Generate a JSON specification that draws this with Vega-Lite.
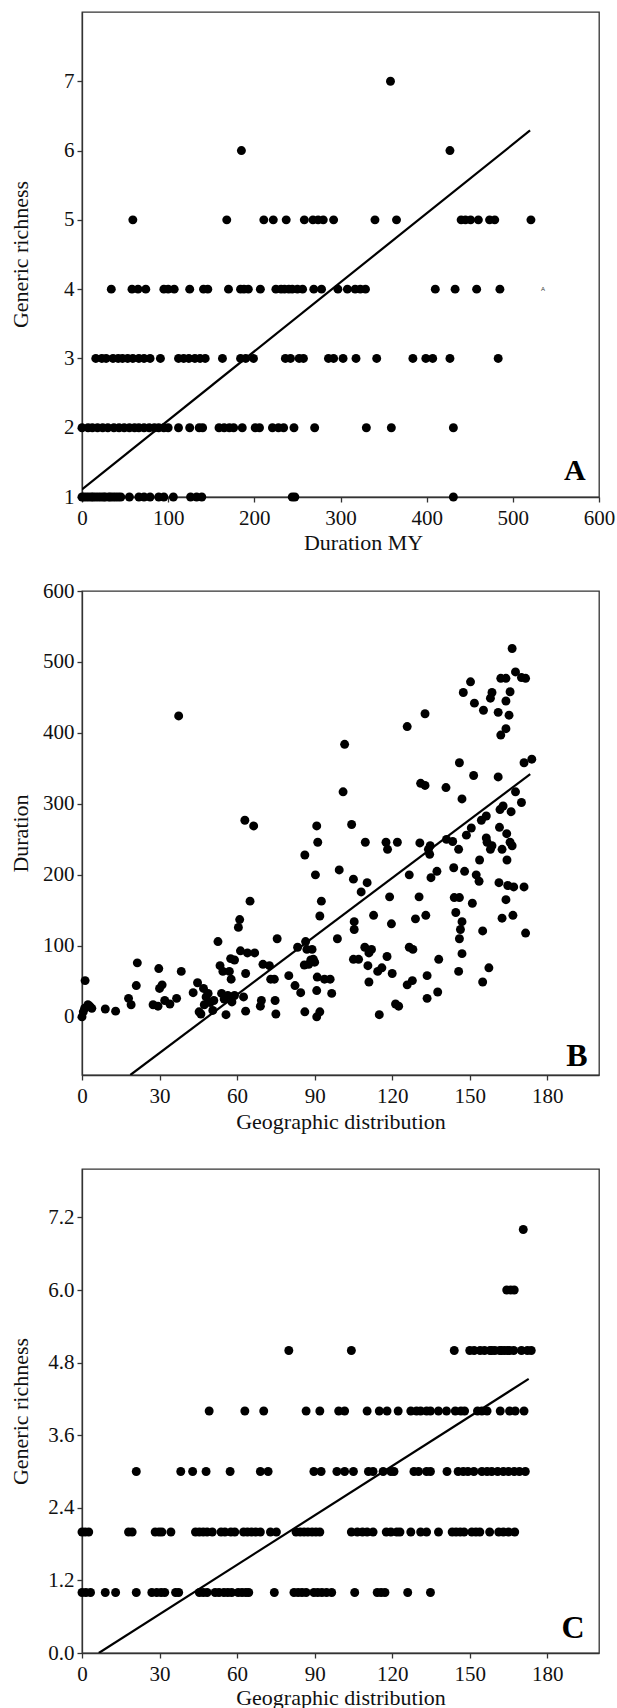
{
"$schema": "https://vega.github.io/schema/vega-lite/v6.json",
"padding": {"left": 8, "top": 11, "right": 5, "bottom": 5},
"background": "white",
"spacing": 94,
"bounds": "flush",
"config": {
 "font": "Liberation Serif",
 "view": {"stroke": "#333", "strokeWidth": 1.3},
 "axis": {"grid": false, "domainColor": "#333", "domainWidth": 1.3, "tickColor": "#333", "tickWidth": 1.3, "tickSize": 5,
  "labelFont": "Liberation Serif", "labelFontSize": 21, "labelColor": "#111", "labelFlush": false, "labelOverlap": false,
  "titleFont": "Liberation Serif", "titleFontSize": 22, "titleFontWeight": "normal", "titleColor": "#111"},
 "axisX": {"labelPadding": 5},
 "axisY": {"labelPadding": 3}
},
"datasets": {
 "a": [
  {"dur":358,"rich":7},
  {"dur":185,"rich":6},{"dur":427,"rich":6},
  {"dur":59,"rich":5},{"dur":168,"rich":5},{"dur":211,"rich":5},{"dur":222,"rich":5},{"dur":237,"rich":5},{"dur":258,"rich":5},{"dur":268,"rich":5},{"dur":274,"rich":5},{"dur":280,"rich":5},{"dur":292,"rich":5},{"dur":340,"rich":5},{"dur":365,"rich":5},{"dur":440,"rich":5},{"dur":445,"rich":5},{"dur":451,"rich":5},{"dur":460,"rich":5},{"dur":473,"rich":5},{"dur":479,"rich":5},{"dur":521,"rich":5},
  {"dur":34,"rich":4},{"dur":58,"rich":4},{"dur":65,"rich":4},{"dur":74,"rich":4},{"dur":95,"rich":4},{"dur":100,"rich":4},{"dur":107,"rich":4},{"dur":125,"rich":4},{"dur":141,"rich":4},{"dur":146,"rich":4},{"dur":170,"rich":4},{"dur":184,"rich":4},{"dur":188,"rich":4},{"dur":193,"rich":4},{"dur":207,"rich":4},{"dur":225,"rich":4},{"dur":231,"rich":4},{"dur":235,"rich":4},{"dur":240,"rich":4},{"dur":244,"rich":4},{"dur":250,"rich":4},{"dur":256,"rich":4},{"dur":269,"rich":4},{"dur":278,"rich":4},{"dur":297,"rich":4},{"dur":308,"rich":4},{"dur":317,"rich":4},{"dur":323,"rich":4},{"dur":329,"rich":4},{"dur":410,"rich":4},{"dur":433,"rich":4},{"dur":458,"rich":4},{"dur":485,"rich":4},
  {"dur":16,"rich":3},{"dur":23,"rich":3},{"dur":28,"rich":3},{"dur":36,"rich":3},{"dur":42,"rich":3},{"dur":47,"rich":3},{"dur":53,"rich":3},{"dur":59,"rich":3},{"dur":66,"rich":3},{"dur":72,"rich":3},{"dur":79,"rich":3},{"dur":91,"rich":3},{"dur":112,"rich":3},{"dur":118,"rich":3},{"dur":124,"rich":3},{"dur":131,"rich":3},{"dur":137,"rich":3},{"dur":143,"rich":3},{"dur":163,"rich":3},{"dur":184,"rich":3},{"dur":190,"rich":3},{"dur":199,"rich":3},{"dur":236,"rich":3},{"dur":242,"rich":3},{"dur":252,"rich":3},{"dur":257,"rich":3},{"dur":286,"rich":3},{"dur":292,"rich":3},{"dur":303,"rich":3},{"dur":318,"rich":3},{"dur":342,"rich":3},{"dur":384,"rich":3},{"dur":399,"rich":3},{"dur":407,"rich":3},{"dur":427,"rich":3},{"dur":483,"rich":3},
  {"dur":0,"rich":2},{"dur":7,"rich":2},{"dur":12,"rich":2},{"dur":18,"rich":2},{"dur":24,"rich":2},{"dur":30,"rich":2},{"dur":37,"rich":2},{"dur":43,"rich":2},{"dur":49,"rich":2},{"dur":55,"rich":2},{"dur":61,"rich":2},{"dur":66,"rich":2},{"dur":72,"rich":2},{"dur":78,"rich":2},{"dur":84,"rich":2},{"dur":89,"rich":2},{"dur":95,"rich":2},{"dur":100,"rich":2},{"dur":112,"rich":2},{"dur":125,"rich":2},{"dur":136,"rich":2},{"dur":140,"rich":2},{"dur":159,"rich":2},{"dur":165,"rich":2},{"dur":171,"rich":2},{"dur":176,"rich":2},{"dur":186,"rich":2},{"dur":201,"rich":2},{"dur":206,"rich":2},{"dur":221,"rich":2},{"dur":228,"rich":2},{"dur":234,"rich":2},{"dur":246,"rich":2},{"dur":270,"rich":2},{"dur":330,"rich":2},{"dur":359,"rich":2},{"dur":431,"rich":2},
  {"dur":0,"rich":1},{"dur":2,"rich":1},{"dur":5,"rich":1},{"dur":8,"rich":1},{"dur":11,"rich":1},{"dur":13,"rich":1},{"dur":16,"rich":1},{"dur":19,"rich":1},{"dur":22,"rich":1},{"dur":25,"rich":1},{"dur":27,"rich":1},{"dur":31,"rich":1},{"dur":33,"rich":1},{"dur":36,"rich":1},{"dur":39,"rich":1},{"dur":42,"rich":1},{"dur":45,"rich":1},{"dur":55,"rich":1},{"dur":66,"rich":1},{"dur":72,"rich":1},{"dur":79,"rich":1},{"dur":89,"rich":1},{"dur":95,"rich":1},{"dur":106,"rich":1},{"dur":126,"rich":1},{"dur":133,"rich":1},{"dur":139,"rich":1},{"dur":244,"rich":1},{"dur":247,"rich":1},{"dur":431,"rich":1}
 ],
 "lineA": [{"dur":0,"rich":1.11},{"dur":520,"rich":6.29}],
 "b": [
  {"geo":0,"dur":0},{"geo":0.5,"dur":7},{"geo":1,"dur":12},{"geo":1.2,"dur":51},{"geo":2.3,"dur":17},{"geo":3,"dur":15},{"geo":3.8,"dur":12},{"geo":9,"dur":11},{"geo":13,"dur":8},{"geo":18,"dur":26},{"geo":19,"dur":17},{"geo":21,"dur":44},{"geo":21.4,"dur":76},{"geo":27.5,"dur":17},{"geo":29.4,"dur":15},{"geo":29.7,"dur":68},{"geo":30,"dur":40},{"geo":31,"dur":45},{"geo":32,"dur":23},{"geo":34,"dur":18},{"geo":36.6,"dur":26},{"geo":37.4,"dur":424},{"geo":38.4,"dur":64},{"geo":43,"dur":34},{"geo":44.7,"dur":48},{"geo":45.3,"dur":7},{"geo":46,"dur":4},{"geo":47,"dur":40},{"geo":47.3,"dur":17},{"geo":48,"dur":28},{"geo":48.8,"dur":33},{"geo":49.6,"dur":20},{"geo":50.6,"dur":9},{"geo":51,"dur":23},{"geo":52.6,"dur":106},{"geo":53.4,"dur":72},{"geo":54,"dur":33},{"geo":54.5,"dur":64},{"geo":55,"dur":25},{"geo":55.7,"dur":3},{"geo":56.4,"dur":30},{"geo":57,"dur":64},{"geo":57.5,"dur":82},{"geo":57.7,"dur":53},{"geo":58,"dur":21},{"geo":59,"dur":80},{"geo":59,"dur":30},{"geo":60.5,"dur":126},{"geo":61,"dur":137},{"geo":61.3,"dur":93},{"geo":62.5,"dur":28},{"geo":63,"dur":277},{"geo":63.3,"dur":61},{"geo":63.3,"dur":8},{"geo":64,"dur":90},{"geo":65,"dur":163},{"geo":66.4,"dur":269},{"geo":66.8,"dur":90},{"geo":69,"dur":15},{"geo":69.4,"dur":23},{"geo":70,"dur":74},{"geo":72.5,"dur":72},{"geo":73,"dur":53},{"geo":74.4,"dur":53},{"geo":74.7,"dur":23},{"geo":75,"dur":4},{"geo":75.5,"dur":110},{"geo":80,"dur":58},{"geo":82.4,"dur":44},{"geo":83.4,"dur":98},{"geo":84.6,"dur":34},{"geo":86,"dur":73},{"geo":86.2,"dur":228},{"geo":86.2,"dur":7},{"geo":86.5,"dur":106},{"geo":87,"dur":95},{"geo":87.7,"dur":74},{"geo":88.5,"dur":80},{"geo":89,"dur":95},{"geo":89.5,"dur":81},{"geo":90,"dur":77},{"geo":90.3,"dur":200},{"geo":90.8,"dur":269},{"geo":90.8,"dur":37},{"geo":90.8,"dur":0},{"geo":91,"dur":56},{"geo":91.2,"dur":246},{"geo":92,"dur":142},{"geo":92,"dur":7},{"geo":92.6,"dur":163},{"geo":93.8,"dur":53},{"geo":96,"dur":53},{"geo":96.6,"dur":33},{"geo":98.8,"dur":110},{"geo":99.5,"dur":207},{"geo":101,"dur":317},{"geo":101.6,"dur":384},{"geo":104.3,"dur":271},{"geo":105,"dur":81},{"geo":105,"dur":194},{"geo":105.3,"dur":134},{"geo":105.3,"dur":123},{"geo":107,"dur":81},{"geo":108,"dur":176},{"geo":109.4,"dur":98},{"geo":109.6,"dur":246},{"geo":110.3,"dur":189},{"geo":110.6,"dur":72},{"geo":111,"dur":90},{"geo":111,"dur":49},{"geo":112,"dur":95},{"geo":112.8,"dur":143},{"geo":114.4,"dur":64},{"geo":115,"dur":3},{"geo":116,"dur":69},{"geo":117.6,"dur":246},{"geo":118,"dur":85},{"geo":118.2,"dur":236},{"geo":119,"dur":169},{"geo":119.7,"dur":131},{"geo":120,"dur":61},{"geo":121.3,"dur":18},{"geo":122,"dur":246},{"geo":122.5,"dur":15},{"geo":125.8,"dur":409},{"geo":125.8,"dur":45},{"geo":126.6,"dur":200},{"geo":126.6,"dur":98},{"geo":127.8,"dur":51},{"geo":128,"dur":95},{"geo":129,"dur":138},{"geo":130.4,"dur":169},{"geo":130.7,"dur":245},{"geo":131,"dur":329},{"geo":132.7,"dur":427},{"geo":132.7,"dur":326},{"geo":133,"dur":143},{"geo":133.5,"dur":58},{"geo":133.5,"dur":26},{"geo":134,"dur":236},{"geo":134.5,"dur":229},{"geo":134.7,"dur":241},{"geo":135,"dur":196},{"geo":137.3,"dur":205},{"geo":137.6,"dur":35},{"geo":138,"dur":81},{"geo":140.8,"dur":323},{"geo":141,"dur":250},{"geo":143.4,"dur":247},{"geo":143.8,"dur":210},{"geo":144,"dur":168},{"geo":144.6,"dur":147},{"geo":145.7,"dur":236},{"geo":145.7,"dur":64},{"geo":146,"dur":168},{"geo":146,"dur":110},{"geo":146,"dur":358},{"geo":146.4,"dur":123},{"geo":147,"dur":134},{"geo":147,"dur":89},{"geo":147,"dur":307},{"geo":147.5,"dur":457},{"geo":148,"dur":205},{"geo":148.7,"dur":256},{"geo":150.3,"dur":472},{"geo":150.6,"dur":266},{"geo":151,"dur":160},{"geo":151.5,"dur":340},{"geo":151.8,"dur":442},{"geo":152.5,"dur":200},{"geo":153.6,"dur":191},{"geo":153.8,"dur":221},{"geo":154.5,"dur":277},{"geo":155,"dur":121},{"geo":155,"dur":49},{"geo":155.3,"dur":432},{"geo":156.4,"dur":283},{"geo":156.4,"dur":252},{"geo":156.7,"dur":246},{"geo":157.4,"dur":69},{"geo":158,"dur":449},{"geo":158,"dur":236},{"geo":158.6,"dur":457},{"geo":158.6,"dur":241},{"geo":161,"dur":338},{"geo":161,"dur":429},{"geo":161.3,"dur":189},{"geo":161.5,"dur":267},{"geo":161.7,"dur":292},{"geo":162,"dur":477},{"geo":162,"dur":397},{"geo":162.5,"dur":236},{"geo":162.5,"dur":139},{"geo":162.9,"dur":297},{"geo":164,"dur":477},{"geo":164,"dur":445},{"geo":164,"dur":406},{"geo":164,"dur":165},{"geo":164.3,"dur":258},{"geo":164.4,"dur":221},{"geo":164.7,"dur":185},{"geo":165.2,"dur":425},{"geo":165.6,"dur":458},{"geo":165.6,"dur":246},{"geo":166,"dur":289},{"geo":166.4,"dur":241},{"geo":166.4,"dur":519},{"geo":166.7,"dur":143},{"geo":167,"dur":183},{"geo":167.7,"dur":486},{"geo":167.7,"dur":317},{"geo":170,"dur":478},{"geo":170,"dur":302},{"geo":171,"dur":358},{"geo":171,"dur":183},{"geo":171.6,"dur":477},{"geo":171.6,"dur":118},{"geo":174,"dur":363}
 ],
 "lineB": [{"geo":18.7,"dur":-82},{"geo":173.4,"dur":342}],
 "c": [
  {"geo":170.7,"rich":7},
  {"geo":164.3,"rich":6},{"geo":165.8,"rich":6},{"geo":167.2,"rich":6},
  {"geo":80,"rich":5},{"geo":104.2,"rich":5},{"geo":144,"rich":5},{"geo":150,"rich":5},{"geo":151.7,"rich":5},{"geo":154,"rich":5},{"geo":155.7,"rich":5},{"geo":157.8,"rich":5},{"geo":158.5,"rich":5},{"geo":159.7,"rich":5},{"geo":161.6,"rich":5},{"geo":162.3,"rich":5},{"geo":163.4,"rich":5},{"geo":164.6,"rich":5},{"geo":165.4,"rich":5},{"geo":167,"rich":5},{"geo":170,"rich":5},{"geo":172.3,"rich":5},{"geo":173.8,"rich":5},
  {"geo":49.2,"rich":4},{"geo":63,"rich":4},{"geo":70.3,"rich":4},{"geo":86.7,"rich":4},{"geo":92,"rich":4},{"geo":99.3,"rich":4},{"geo":101.6,"rich":4},{"geo":110.3,"rich":4},{"geo":115,"rich":4},{"geo":118,"rich":4},{"geo":122.3,"rich":4},{"geo":127.2,"rich":4},{"geo":129.4,"rich":4},{"geo":131,"rich":4},{"geo":133.3,"rich":4},{"geo":134.8,"rich":4},{"geo":137.9,"rich":4},{"geo":141,"rich":4},{"geo":144.4,"rich":4},{"geo":146.6,"rich":4},{"geo":148,"rich":4},{"geo":153,"rich":4},{"geo":154.7,"rich":4},{"geo":156.7,"rich":4},{"geo":161.8,"rich":4},{"geo":165.4,"rich":4},{"geo":167.6,"rich":4},{"geo":171,"rich":4},
  {"geo":21,"rich":3},{"geo":38.2,"rich":3},{"geo":42.8,"rich":3},{"geo":48,"rich":3},{"geo":57.3,"rich":3},{"geo":69,"rich":3},{"geo":72,"rich":3},{"geo":89.7,"rich":3},{"geo":92.5,"rich":3},{"geo":98.6,"rich":3},{"geo":101.6,"rich":3},{"geo":105,"rich":3},{"geo":110.8,"rich":3},{"geo":112.6,"rich":3},{"geo":116.5,"rich":3},{"geo":119.5,"rich":3},{"geo":120.7,"rich":3},{"geo":128.4,"rich":3},{"geo":130.2,"rich":3},{"geo":133.3,"rich":3},{"geo":134.8,"rich":3},{"geo":141.2,"rich":3},{"geo":145.5,"rich":3},{"geo":147.5,"rich":3},{"geo":149.3,"rich":3},{"geo":151.6,"rich":3},{"geo":154.7,"rich":3},{"geo":156.7,"rich":3},{"geo":158.5,"rich":3},{"geo":160.8,"rich":3},{"geo":163,"rich":3},{"geo":165,"rich":3},{"geo":167.2,"rich":3},{"geo":169.2,"rich":3},{"geo":171.5,"rich":3},
  {"geo":0,"rich":2},{"geo":1.2,"rich":2},{"geo":2.6,"rich":2},{"geo":18,"rich":2},{"geo":19.4,"rich":2},{"geo":28.3,"rich":2},{"geo":29.8,"rich":2},{"geo":30.9,"rich":2},{"geo":34.4,"rich":2},{"geo":43.9,"rich":2},{"geo":45.4,"rich":2},{"geo":46.9,"rich":2},{"geo":48.4,"rich":2},{"geo":50.4,"rich":2},{"geo":53.8,"rich":2},{"geo":55.3,"rich":2},{"geo":57.6,"rich":2},{"geo":59.1,"rich":2},{"geo":62.5,"rich":2},{"geo":64,"rich":2},{"geo":65.6,"rich":2},{"geo":67.2,"rich":2},{"geo":69,"rich":2},{"geo":72.9,"rich":2},{"geo":75.2,"rich":2},{"geo":82.8,"rich":2},{"geo":84.4,"rich":2},{"geo":85.9,"rich":2},{"geo":87.4,"rich":2},{"geo":89,"rich":2},{"geo":90.5,"rich":2},{"geo":92,"rich":2},{"geo":104.2,"rich":2},{"geo":106.5,"rich":2},{"geo":108.5,"rich":2},{"geo":110.3,"rich":2},{"geo":112.6,"rich":2},{"geo":117.7,"rich":2},{"geo":119.5,"rich":2},{"geo":121.8,"rich":2},{"geo":123,"rich":2},{"geo":127.2,"rich":2},{"geo":131,"rich":2},{"geo":133.3,"rich":2},{"geo":137.9,"rich":2},{"geo":143.2,"rich":2},{"geo":144.7,"rich":2},{"geo":146.3,"rich":2},{"geo":147.8,"rich":2},{"geo":150.8,"rich":2},{"geo":152.4,"rich":2},{"geo":153.9,"rich":2},{"geo":157.7,"rich":2},{"geo":161.2,"rich":2},{"geo":163,"rich":2},{"geo":165,"rich":2},{"geo":167.4,"rich":2},
  {"geo":0,"rich":1},{"geo":1.5,"rich":1},{"geo":3.3,"rich":1},{"geo":9,"rich":1},{"geo":13,"rich":1},{"geo":21,"rich":1},{"geo":27,"rich":1},{"geo":28.9,"rich":1},{"geo":30.6,"rich":1},{"geo":32,"rich":1},{"geo":36.2,"rich":1},{"geo":37.4,"rich":1},{"geo":45.4,"rich":1},{"geo":46.9,"rich":1},{"geo":48.4,"rich":1},{"geo":51.5,"rich":1},{"geo":53,"rich":1},{"geo":54.9,"rich":1},{"geo":56.4,"rich":1},{"geo":57.9,"rich":1},{"geo":60.4,"rich":1},{"geo":61.9,"rich":1},{"geo":63.4,"rich":1},{"geo":64.5,"rich":1},{"geo":74.4,"rich":1},{"geo":82,"rich":1},{"geo":83.6,"rich":1},{"geo":85.1,"rich":1},{"geo":86.7,"rich":1},{"geo":89.7,"rich":1},{"geo":91.2,"rich":1},{"geo":92.8,"rich":1},{"geo":94.6,"rich":1},{"geo":96.6,"rich":1},{"geo":105.5,"rich":1},{"geo":114.2,"rich":1},{"geo":115.7,"rich":1},{"geo":117.2,"rich":1},{"geo":126,"rich":1},{"geo":134.8,"rich":1}
 ],
 "lineC": [{"geo":6.5,"rich":0},{"geo":172.8,"rich":4.53}]
},
"vconcat": [
 {
  "width": 517, "height": 485,
  "layer": [
   {"data": {"name": "a"},
    "mark": {"type": "circle", "size": 80, "color": "#000", "opacity": 1},
    "encoding": {
     "x": {"field": "dur", "type": "quantitative", "scale": {"domain": [0, 600], "nice": false, "zero": false},
      "axis": {"values": [0,100,200,300,400,500,600], "format": "d", "title": "Duration MY", "titleX": 281, "titleY": 45, "titleBaseline": "middle", "titleAlign": "center"}},
     "y": {"field": "rich", "type": "quantitative", "scale": {"domain": [1, 8], "nice": false, "zero": false},
      "axis": {"values": [1,2,3,4,5,6,7], "format": "d", "title": "Generic richness", "titleX": -62, "titleY": 242, "titleAngle": 270, "titleBaseline": "middle", "titleAlign": "center"}}
    }},
   {"data": {"name": "lineA"},
    "mark": {"type": "line", "color": "#000", "strokeWidth": 2.2, "clip": true},
    "encoding": {"x": {"field": "dur", "type": "quantitative"}, "y": {"field": "rich", "type": "quantitative"}}},
   {"data": {"values": [{"label": "A"}]},
    "mark": {"type": "text", "font": "Liberation Serif", "fontWeight": "bold", "fontSize": 30, "align": "center", "baseline": "alphabetic", "color": "#000"},
    "encoding": {"x": {"datum": 572}, "y": {"datum": 1.24}, "text": {"field": "label"}}},
   {"data": {"values": [{"label": "A"}]},
    "mark": {"type": "text", "font": "Liberation Sans", "fontSize": 6, "align": "center", "baseline": "middle", "color": "#333"},
    "encoding": {"x": {"datum": 535}, "y": {"datum": 4}, "text": {"field": "label"}}}
  ]
 },
 {
  "width": 517, "height": 484,
  "layer": [
   {"data": {"name": "b"},
    "mark": {"type": "circle", "size": 80, "color": "#000", "opacity": 1},
    "encoding": {
     "x": {"field": "geo", "type": "quantitative", "scale": {"domain": [0, 200], "nice": false, "zero": false},
      "axis": {"values": [0,30,60,90,120,150,180], "format": "d", "title": "Geographic distribution", "titleY": 46, "titleBaseline": "middle"}},
     "y": {"field": "dur", "type": "quantitative", "scale": {"domain": [-82, 600], "nice": false, "zero": false},
      "axis": {"values": [0,100,200,300,400,500,600], "format": "d", "title": "Duration", "titleX": -62, "titleY": 242, "titleAngle": 270, "titleBaseline": "middle", "titleAlign": "center"}}
    }},
   {"data": {"name": "lineB"},
    "mark": {"type": "line", "color": "#000", "strokeWidth": 2.2, "clip": true},
    "encoding": {"x": {"field": "geo", "type": "quantitative"}, "y": {"field": "dur", "type": "quantitative"}}},
   {"data": {"values": [{"label": "B"}]},
    "mark": {"type": "text", "font": "Liberation Serif", "fontWeight": "bold", "fontSize": 32, "align": "center", "baseline": "alphabetic", "color": "#000"},
    "encoding": {"x": {"datum": 191.5}, "y": {"datum": -69}, "text": {"field": "label"}}}
  ]
 },
 {
  "width": 517, "height": 484,
  "layer": [
   {"data": {"name": "c"},
    "mark": {"type": "circle", "size": 80, "color": "#000", "opacity": 1},
    "encoding": {
     "x": {"field": "geo", "type": "quantitative", "scale": {"domain": [0, 200], "nice": false, "zero": false},
      "axis": {"values": [0,30,60,90,120,150,180], "format": "d", "title": "Geographic distribution", "titleY": 44, "titleBaseline": "middle"}},
     "y": {"field": "rich", "type": "quantitative", "scale": {"domain": [0, 8], "nice": false, "zero": false},
      "axis": {"values": [0,1.2,2.4,3.6,4.8,6.0,7.2], "format": ".1f", "title": "Generic richness", "titleX": -62, "titleY": 242, "titleAngle": 270, "titleBaseline": "middle", "titleAlign": "center"}}
    }},
   {"data": {"name": "lineC"},
    "mark": {"type": "line", "color": "#000", "strokeWidth": 2.2, "clip": true},
    "encoding": {"x": {"field": "geo", "type": "quantitative"}, "y": {"field": "rich", "type": "quantitative"}}},
   {"data": {"values": [{"label": "C"}]},
    "mark": {"type": "text", "font": "Liberation Serif", "fontWeight": "bold", "fontSize": 32, "align": "center", "baseline": "alphabetic", "color": "#000"},
    "encoding": {"x": {"datum": 190}, "y": {"datum": 0.24}, "text": {"field": "label"}}}
  ]
 }
]
}
